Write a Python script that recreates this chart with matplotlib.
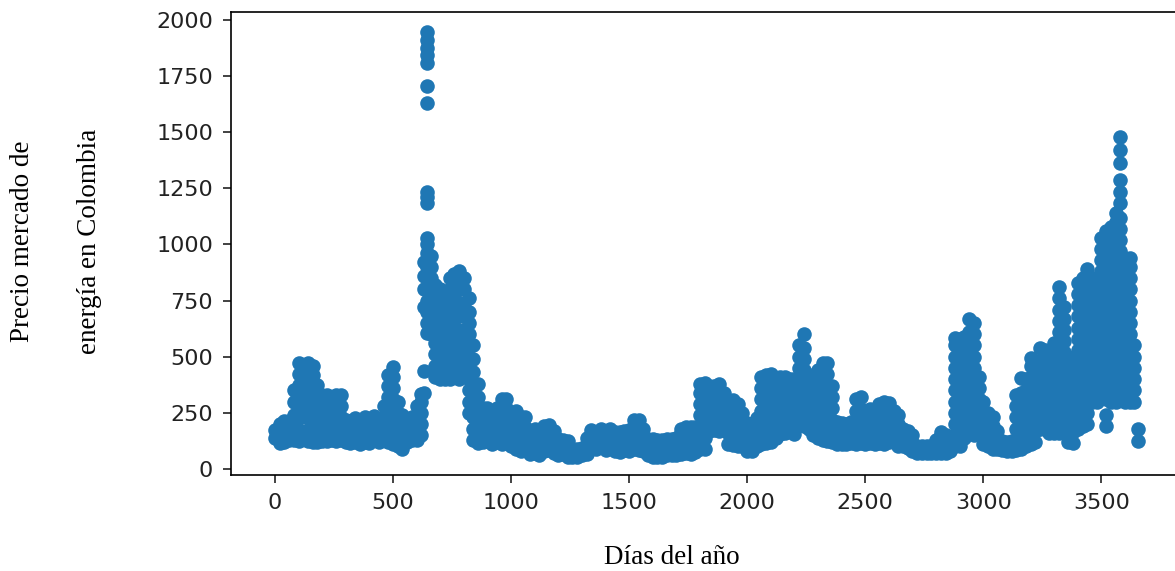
import matplotlib
matplotlib.use("Agg")
import matplotlib.pyplot as plt

# Precio de bolsa, agrupado cada ~20 dias.
# Cada dia lleva los valores que se ven en la nube de puntos.
dias_1 = [0, 20, 40, 60, 80, 100, 120, 140, 160, 180, 200, 220, 240, 260, 280,
          300, 320, 340, 360, 380, 400, 420, 440, 460, 480, 500, 520, 540, 560,
          580, 600, 620, 630, 645, 660, 680, 700, 720, 740, 760, 780, 800, 820,
          840, 860]
precios_1 = [
    (140, 175), (115, 160, 200), (120, 170, 215), (130, 175, 215),
    (130, 180, 240, 300, 350),
    (125, 175, 225, 275, 325, 375, 425, 470),
    (260, 310, 360, 410, 460),
    (125, 175, 225, 275, 325, 375, 425, 470),
    (120, 170, 220, 270, 320, 370, 420, 460),
    (120, 170, 220, 270, 320, 375),
    (125, 175, 225, 275, 330), (125, 175, 225, 275, 330),
    (130, 180, 230, 280), (125, 175, 225, 275, 330),
    (130, 180, 230, 280, 330),
    (120, 170, 220), (115, 165, 215), (120, 170, 225), (110, 160, 210),
    (120, 170, 230), (115, 165, 215), (130, 180, 235), (120, 170, 220),
    (130, 180, 230, 280),
    (120, 170, 220, 270, 320, 370, 420),
    (110, 160, 210, 260, 310, 360, 410, 455),
    (100, 150, 200, 250, 300), (90, 140, 190, 240), (120, 170, 220),
    (130, 180, 230), (130, 180, 230, 280),
    (150, 200, 250, 300, 335),
    (340, 435, 720, 800, 860, 920),
    (606, 650, 700, 750, 800, 850, 900, 962, 1000, 1029, 1185, 1212, 1234,
     1630, 1706, 1808, 1844, 1875, 1911, 1946),
    (600, 650, 700, 750, 800, 850, 900, 950),
    (410, 460, 510, 560, 610, 660, 710, 760, 820),
    (400, 450, 500, 550, 600, 650, 700, 750, 800),
    (400, 450, 500, 550, 600, 650, 700, 760),
    (400, 450, 500, 550, 600, 650, 700, 750, 800, 850),
    (420, 470, 520, 570, 620, 670, 720, 770, 820, 870),
    (400, 450, 500, 560, 620, 680, 740, 800, 860, 880),
    (420, 470, 520, 570, 620, 680, 740, 800, 850),
    (250, 300, 350, 400, 450, 500, 550, 600, 650, 700, 760),
    (130, 180, 230, 280, 330, 380, 430, 490, 550),
    (115, 160, 210, 260, 320, 380),
]

dias_2 = [880, 900, 920, 940, 960, 980, 1000, 1020, 1040, 1060, 1080, 1100,
          1120, 1140, 1160, 1180, 1200, 1220, 1240, 1260, 1280, 1300, 1320,
          1340, 1360, 1380, 1400, 1420, 1440, 1460, 1480, 1500, 1520, 1540,
          1560, 1580, 1600, 1620, 1640, 1660, 1680, 1700, 1720, 1740, 1760,
          1780]
precios_2 = [
    (120, 170, 220, 270), (125, 175, 225, 270), (110, 160, 210, 260),
    (120, 170, 220, 270), (110, 160, 210, 260, 310), (120, 170, 220, 270, 310),
    (100, 150, 200, 250), (90, 140, 190, 240, 260), (80, 130, 180, 230),
    (85, 135, 185, 230), (65, 110, 160), (70, 120, 180), (60, 110, 160),
    (80, 130, 190), (85, 135, 195), (70, 120, 170), (60, 100, 135),
    (65, 110, 130), (55, 95, 125), (55, 90), (55, 90), (60, 95),
    (65, 100, 140), (95, 140, 175), (90, 140, 165), (100, 140, 180),
    (85, 130, 170), (100, 140, 180), (80, 120, 165), (75, 120, 165),
    (85, 130, 170), (80, 130, 175), (90, 140, 190, 220), (85, 135, 185, 220),
    (80, 130, 180), (60, 100, 135), (55, 95, 135), (55, 95, 130),
    (55, 95, 130), (60, 95, 135), (60, 100, 135), (60, 100, 140),
    (65, 110, 160, 180), (70, 120, 170, 185), (65, 115, 165, 185),
    (75, 125, 175, 185),
]

dias_3 = [1800, 1820, 1840, 1860, 1880, 1900, 1920, 1940, 1960, 1980, 2000,
          2020, 2040, 2060, 2080, 2100, 2120, 2140, 2160, 2180, 2200, 2220,
          2240, 2260, 2280, 2300, 2320, 2340, 2360, 2380, 2400, 2420, 2440,
          2460, 2480, 2500, 2520, 2540, 2560, 2580, 2600, 2620, 2640, 2660,
          2680, 2700]
precios_3 = [
    (90, 140, 190, 240, 290, 340, 380), (90, 140, 190, 240, 290, 340, 385),
    (170, 220, 270, 320, 370), (175, 225, 275, 330, 370),
    (170, 220, 270, 320, 380), (190, 240, 290, 340),
    (110, 160, 210, 260, 300), (105, 155, 205, 255, 305),
    (100, 150, 200, 250, 290), (100, 150, 200, 250),
    (80, 130, 180, 205), (80, 130, 180, 200), (100, 150, 200, 225),
    (110, 160, 210, 260, 310, 360, 410), (115, 165, 215, 265, 315, 365, 420),
    (120, 170, 220, 270, 320, 370, 425), (140, 190, 240, 290, 340, 390),
    (155, 205, 255, 305, 355, 410), (160, 210, 260, 310, 360, 410),
    (180, 230, 280, 330, 380, 400), (155, 200, 250, 300, 350, 400),
    (200, 250, 300, 350, 400, 450, 500, 550),
    (190, 240, 290, 340, 390, 440, 490, 540, 600),
    (180, 230, 280, 330, 380, 420), (150, 200, 250, 300, 350, 390),
    (140, 190, 240, 290, 340, 390, 440),
    (130, 180, 230, 280, 330, 380, 430, 470),
    (125, 175, 225, 275, 325, 375, 425, 470),
    (120, 170, 220, 270, 320, 370),
    (110, 160, 210), (110, 160, 205), (110, 155, 200), (115, 160, 210),
    (110, 160, 210, 260, 310), (115, 165, 215, 265, 320),
    (110, 160, 210, 260), (115, 165, 215, 265), (110, 160, 210, 255),
    (115, 165, 215, 260, 290), (110, 160, 210, 260, 300),
    (120, 170, 220, 270, 295), (125, 175, 225, 260), (100, 150, 200, 240),
    (100, 140, 180), (95, 135, 170), (80, 115, 150),
]

dias_4 = [2720, 2740, 2760, 2780, 2800, 2820, 2840, 2860, 2880, 2900, 2920,
          2940, 2960, 2980, 3000, 3020, 3040, 3060, 3080, 3100, 3120, 3140,
          3160, 3180, 3200, 3220, 3240, 3260, 3280, 3300, 3320, 3340, 3360,
          3380, 3400, 3420, 3440, 3460, 3480, 3500, 3520, 3540, 3560, 3580,
          3600, 3620, 3640, 3655]
precios_4 = [
    (70, 100), (70, 100), (70, 100), (70, 100), (70, 105, 130),
    (70, 110, 150, 165), (70, 110, 150), (80, 120, 140),
    (100, 150, 200, 250, 300, 350, 400, 450, 500, 550, 585),
    (100, 150, 200, 250, 300, 350, 400, 450, 500, 550, 580),
    (140, 190, 240, 290, 340, 390, 440, 490, 540, 590),
    (160, 210, 260, 310, 360, 410, 460, 510, 560, 610, 670),
    (150, 200, 250, 300, 350, 400, 450, 500, 550, 600, 650),
    (160, 210, 260, 310, 360, 410), (110, 160, 210, 260, 300),
    (100, 150, 200, 250), (90, 140, 190, 230), (90, 130, 170),
    (85, 125), (80, 120), (80, 125),
    (85, 130, 180, 230, 280, 330), (90, 140, 190, 240, 290, 340, 405),
    (100, 150, 200, 250, 300, 350, 400),
    (110, 160, 210, 260, 310, 360, 410, 460, 495),
    (120, 170, 220, 270, 320, 370, 420, 470),
    (180, 230, 280, 330, 380, 430, 480, 540),
    (180, 230, 280, 330, 380, 430, 480, 530),
    (160, 210, 260, 310, 360, 410, 460, 510),
    (160, 210, 260, 310, 360, 410, 460, 510, 560),
    (160, 210, 260, 310, 360, 410, 460, 510, 560, 610, 660, 710, 760, 810),
    (170, 220, 270, 320, 370, 420, 470, 520, 570, 620, 670, 720),
    (120, 170, 220, 270, 320, 370, 420, 470, 500),
    (115, 165, 215, 265, 315, 365, 415, 470),
    (180, 230, 280, 330, 380, 430, 480, 530, 580, 630, 680, 730, 780, 830),
    (190, 240, 290, 340, 390, 440, 490, 540, 590, 640, 690, 740, 790, 850),
    (200, 250, 300, 350, 400, 450, 500, 550, 600, 650, 700, 750, 800, 860,
     890),
    (300, 350, 400, 450, 500, 550, 600, 650, 700, 750, 800, 850),
    (300, 350, 400, 450, 500, 550, 600, 650, 700, 750, 800, 850),
    (330, 380, 430, 480, 530, 580, 630, 680, 730, 780, 830, 880, 930, 980,
     1030),
    (190, 240, 310, 360, 410, 460, 510, 560, 610, 660, 710, 760, 810, 860,
     910, 960, 1010, 1060),
    (300, 350, 400, 450, 500, 550, 600, 650, 700, 750, 800, 850, 900, 950,
     1000, 1050, 1080),
    (300, 350, 400, 450, 500, 550, 600, 650, 700, 750, 800, 850, 900, 950,
     1000, 1050, 1100, 1140),
    (320, 370, 420, 470, 520, 570, 620, 670, 720, 770, 820, 870, 920, 970,
     1020, 1070, 1120, 1185, 1234, 1287, 1363, 1421, 1479),
    (300, 350, 400, 450, 500, 550, 600, 650, 700, 750, 800, 850, 900, 940),
    (300, 350, 400, 450, 500, 550, 600, 650, 700, 750, 800, 850, 900, 940),
    (300, 350, 400, 450, 500, 550),
    (125, 180),
]

# Juntar todos los tramos en x, y
x = []
y = []
for dias, precios in [(dias_1, precios_1), (dias_2, precios_2),
                      (dias_3, precios_3), (dias_4, precios_4)]:
    for d, vals in zip(dias, precios):
        for v in vals:
            x.append(d)
            y.append(v)

fig = plt.figure(figsize=(11.75, 5.71), dpi=100)
ax = fig.add_axes([231 / 1175, 96 / 571, 949.5 / 1175, 463.5 / 571])
ax.scatter(x, y, s=110, color="#1f77b4", linewidths=0)

ax.set_xlim(-186, 3835)
ax.set_ylim(-27, 2038)
ax.set_xticks([0, 500, 1000, 1500, 2000, 2500, 3000, 3500])
ax.set_yticks([0, 250, 500, 750, 1000, 1250, 1500, 1750, 2000])
ax.tick_params(labelsize=16, length=6, width=1.2, pad=7, colors="#222222")
for sp in ax.spines.values():
    sp.set_linewidth(1.2)

serif = ["Liberation Serif", "DejaVu Serif"]
fig.text(23 / 1175, 1 - 241 / 571, "Precio mercado de", rotation=90,
         ha="center", va="center", fontsize=19.5, family=serif)
fig.text(90 / 1175, 1 - 241 / 571, "energía en Colombia", rotation=90,
         ha="center", va="center", fontsize=19.5, family=serif)
fig.text(672 / 1175, 1 - 557 / 571, "Días del año", ha="center",
         va="center", fontsize=19.5, family=serif)

fig.savefig("out.png", dpi=100)
